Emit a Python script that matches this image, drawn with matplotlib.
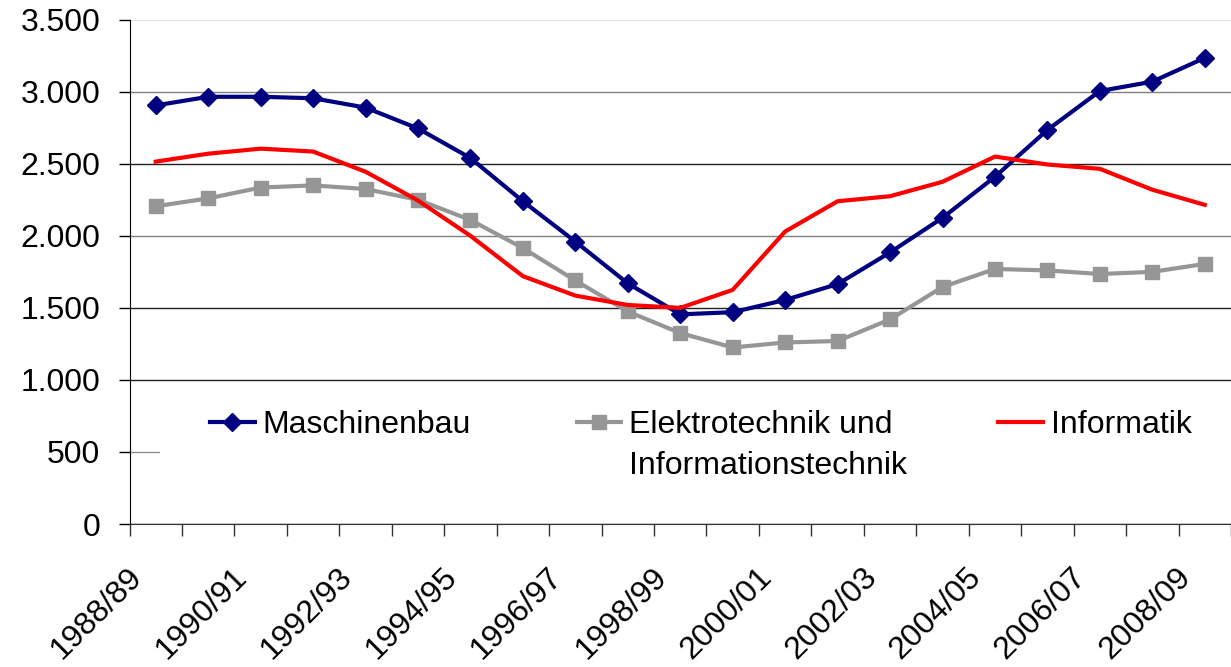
import matplotlib.pyplot as plt
from matplotlib.patches import Rectangle
from matplotlib.ticker import FuncFormatter
from matplotlib.transforms import ScaledTranslation

years = ["1988/89", "1989/90", "1990/91", "1991/92", "1992/93", "1993/94",
         "1994/95", "1995/96", "1996/97", "1997/98", "1998/99", "1999/00",
         "2000/01", "2001/02", "2002/03", "2003/04", "2004/05", "2005/06",
         "2006/07", "2007/08", "2008/09"]

maschinenbau = [2905, 2965, 2965, 2955, 2890, 2745, 2540, 2240, 1960, 1670, 1455,
                1470, 1555, 1665, 1885, 2125, 2410, 2735, 3005, 3070, 3235]
elektrotechnik = [2205, 2260, 2335, 2350, 2325, 2250, 2110, 1915, 1690, 1475, 1325,
                  1225, 1260, 1270, 1420, 1645, 1770, 1760, 1735, 1750, 1805]
informatik = [2515, 2570, 2605, 2585, 2445, 2245, 2000, 1720, 1585, 1520, 1500,
              1625, 2030, 2240, 2275, 2375, 2550, 2495, 2465, 2320, 2215]

yticks = [0, 500, 1000, 1500, 2000, 2500, 3000, 3500]
grid_colors = ["#000000", "#8c8c8c", "#202020", "#202020", "#808080",
               "#202020", "#808080", "#e6e6e6"]

plt.rcParams['font.family'] = ['Liberation Sans', 'DejaVu Sans']

W, H = 1231, 667
fig = plt.figure(figsize=(W / 100, H / 100), dpi=100)
ax = fig.add_axes([129.5 / W, (H - 524) / H, (W - 129.5) / W, (524 - 19.7) / H])

x = range(len(years))
ax.plot(x, maschinenbau, color="#000080", lw=3, marker="D", ms=9,
        label="Maschinenbau", zorder=3)
ax.plot(x, elektrotechnik, color="#969696", lw=3, marker="s", ms=9.5,
        label="Elektrotechnik und", zorder=3)
ax.plot(x, informatik, color="#ff0000", lw=3, label="Informatik", zorder=3)

# axes
ax.set_xlim(-0.5, len(years) - 0.79)
ax.set_ylim(0, 3500)
ax.set_yticks(yticks)
ax.yaxis.set_major_formatter(FuncFormatter(lambda v, p: f"{v:,.0f}".replace(",", ".")))
ax.set_axisbelow(True)
ax.yaxis.grid(True, lw=1)
for gl, c in zip(ax.get_ygridlines(), grid_colors):
    gl.set_color(c)

ax.set_xticks(range(0, len(years), 2))
ax.set_xticklabels(years[::2], rotation=45, ha="right", va="center",
                   rotation_mode="anchor")
ax.set_xticks([i - 0.5 for i in range(len(years) + 1)], minor=True)
ax.tick_params(axis="x", which="major", length=0, pad=35, labelsize=23)
ax.tick_params(axis="x", which="minor", length=8.5, width=1, color="#333333")
ax.tick_params(axis="y", length=8, width=1, pad=13, labelsize=23)
shift = ScaledTranslation(-13 / 72, 0, fig.dpi_scale_trans)
for lbl in ax.get_xticklabels():
    lbl.set_transform(lbl.get_transform() + shift)

for s in ["top", "right"]:
    ax.spines[s].set_visible(False)
ax.spines["left"].set_color("black")
ax.spines["bottom"].set_color("#333333")

# white legend background (hides part of the 500 gridline)
ax.add_patch(Rectangle((0.0277, 250), 1.0, 700, transform=ax.get_yaxis_transform(),
                       facecolor="white", edgecolor="none", zorder=1))

leg = ax.legend(loc="center left", bbox_to_anchor=(210 / W, 1 - 425 / H),
                bbox_transform=fig.transFigure, ncol=3, frameon=False,
                fontsize=23, handlelength=1.4, handletextpad=0.25,
                columnspacing=3.3, borderpad=0, borderaxespad=0)
ax.annotate("Informationstechnik", xy=(0, 0), xycoords=leg.get_texts()[1],
            xytext=(0, -8), textcoords="offset points",
            ha="left", va="top", fontsize=23, zorder=6)

fig.savefig("out.png", dpi=100)
